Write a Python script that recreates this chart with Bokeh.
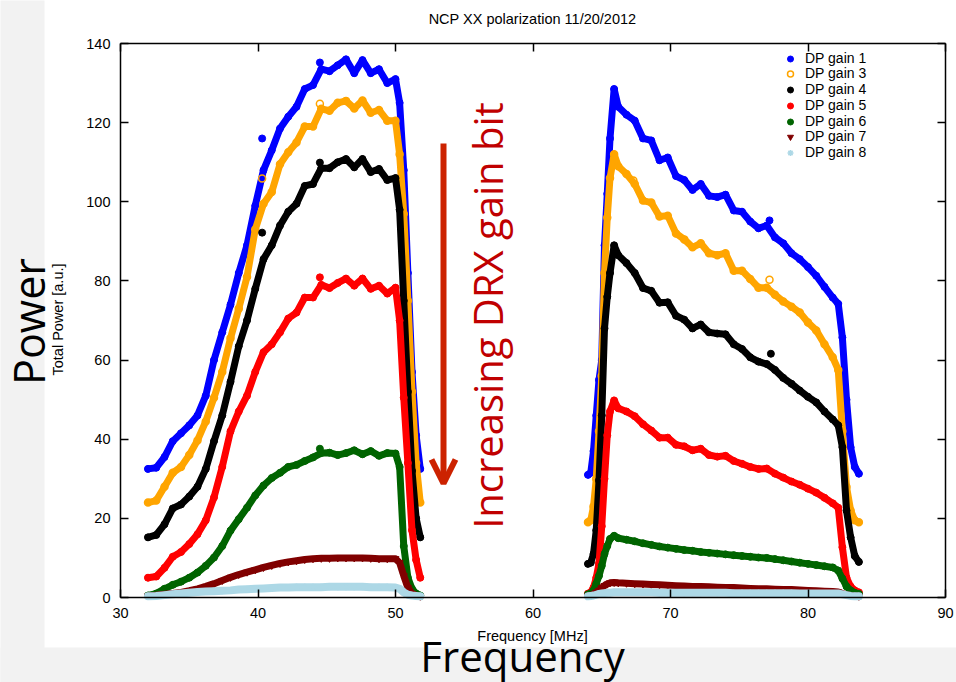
from math import pi
from bokeh.plotting import figure
from bokeh.models import (Range1d, LinearAxis, FixedTicker, Label, Arrow, OpenHead,
                          BoxAnnotation, Legend, LegendItem)
from bokeh.embed import file_html
from bokeh.resources import INLINE

# ---------------- data ----------------
freq_left = [32.0, 32.6, 33.2, 33.8, 34.4, 35.0, 35.6, 36.2, 36.8, 37.4, 38.0, 38.6,
             39.2, 39.8, 40.4, 41.0, 41.6, 42.2, 42.8, 43.4, 44.0, 44.6, 45.2, 45.8,
             46.4, 47.0, 47.6, 48.2, 48.8, 49.4, 50.0, 50.3, 50.6, 50.9, 51.2, 51.5, 51.8]
freq_right = [64.0, 64.2, 64.4, 64.6, 64.8, 65.0, 65.2, 65.4, 65.6, 65.9, 66.2, 66.8,
              67.4, 68.0, 68.6, 69.2, 69.8, 70.4, 71.0, 71.6, 72.2, 72.8, 73.4, 74.0,
              74.6, 75.2, 75.8, 76.4, 77.0, 77.6, 78.2, 78.8, 79.4, 80.0, 80.6, 81.2,
              81.8, 82.2, 82.5, 82.8, 83.1, 83.4, 83.7]

gain1_left = [32.5, 32.8, 35.5, 39.5, 41.5, 43.5, 46.0, 51.0, 60.0, 67.0, 74.0, 82.0,
              89.0, 99.0, 108.0, 113.0, 118.5, 121.5, 124.0, 128.5, 129.5, 133.5, 133.0, 134.5,
              136.0, 132.5, 135.8, 132.5, 133.5, 130.0, 131.0, 125.0, 108.0, 82.0, 57.0, 41.0, 32.5]
gain3_left = [24.0, 24.5, 28.0, 31.5, 33.0, 36.0, 39.7, 44.5, 50.5, 57.0, 65.5, 73.0,
              81.0, 93.0, 99.5, 102.5, 109.5, 112.5, 115.0, 119.0, 119.0, 123.5, 123.0, 125.0,
              125.5, 123.6, 125.6, 122.5, 123.2, 120.5, 120.5, 112.0, 97.0, 75.0, 52.0, 34.0, 24.0]
gain4_left = [15.2, 15.8, 18.5, 22.5, 23.5, 25.5, 28.0, 32.5, 39.5, 46.0, 54.5, 63.5,
              70.0, 78.0, 85.5, 89.0, 94.0, 97.5, 99.5, 104.0, 104.5, 108.5, 108.5, 110.0,
              110.8, 108.7, 110.8, 107.5, 108.3, 105.5, 106.0, 98.0, 75.0, 52.0, 32.0, 20.0, 15.2]
gain5_left = [5.0, 5.3, 7.5, 10.3, 11.5, 13.5, 16.0, 19.5, 25.3, 33.0, 42.0, 47.0,
              51.0, 57.0, 62.0, 64.0, 67.0, 70.5, 72.0, 75.8, 75.8, 79.0, 78.2, 79.5,
              80.6, 78.8, 80.6, 78.0, 78.8, 76.8, 78.3, 70.0, 50.5, 34.0, 17.0, 9.5, 5.0]
gain6_left = [0.5, 1.0, 2.2, 3.2, 4.0, 5.0, 6.3, 8.0, 10.1, 13.0, 16.9, 19.8,
              22.7, 25.8, 28.3, 30.2, 31.5, 33.0, 33.5, 34.5, 35.4, 36.5, 36.6, 36.0,
              36.5, 37.2, 36.2, 37.0, 35.8, 36.5, 36.4, 33.0, 13.0, 5.0, 2.2, 1.0, 0.5]
gain7_left = [0.4, 0.6, 0.8, 1.0, 1.3, 1.7, 2.2, 2.8, 3.5, 4.3, 5.1, 5.8,
              6.4, 7.0, 7.6, 8.1, 8.6, 9.0, 9.3, 9.6, 9.8, 9.9, 9.9, 10.0,
              10.0, 10.0, 10.0, 9.9, 9.8, 9.8, 9.8, 8.8, 5.5, 2.5, 1.0, 0.5, 0.3]
gain8_left = [0.3, 0.4, 0.6, 0.8, 1.0, 1.2, 1.4, 1.5, 1.6, 1.7, 1.8, 2.0,
              2.1, 2.2, 2.3, 2.4, 2.5, 2.5, 2.6, 2.6, 2.6, 2.6, 2.7, 2.7,
              2.7, 2.7, 2.7, 2.6, 2.6, 2.6, 2.5, 2.2, 1.3, 0.7, 0.5, 0.4, 0.3]

gain1_right = [31.0, 31.5, 37.0, 46.0, 55.0, 60.0, 89.0, 102.0, 116.0, 128.5, 124.0, 122.0,
               120.5, 116.0, 115.5, 110.5, 111.2, 106.5, 105.5, 103.0, 104.5, 101.5, 101.2, 101.8,
               97.8, 97.5, 95.0, 93.3, 94.0, 91.0, 89.5, 87.0, 85.5, 83.5, 81.3, 78.5,
               75.8, 74.2, 65.7, 50.0, 38.0, 33.0, 31.3]
gain3_right = [19.0, 19.5, 23.0, 30.0, 42.0, 56.0, 82.0, 96.0, 106.0, 112.0, 109.0, 107.0,
               104.5, 100.3, 99.8, 96.3, 96.5, 92.0, 90.5, 88.5, 89.5, 87.0, 86.5, 87.0,
               82.6, 82.6, 80.5, 78.3, 78.3, 76.5, 74.8, 73.5, 72.0, 69.5, 67.5, 64.0,
               60.7, 57.5, 42.0, 28.0, 22.0, 19.5, 19.0]
gain4_right = [8.5, 8.8, 11.0, 17.0, 29.6, 46.0, 68.0, 76.0, 82.0, 89.0, 86.5, 84.5,
               82.0, 78.2, 77.5, 74.5, 74.6, 71.2, 70.2, 68.0, 69.0, 67.0, 66.7, 66.5,
               64.0, 62.8, 60.7, 59.6, 59.0, 57.5, 55.5, 54.0, 52.3, 50.7, 49.3, 47.0,
               45.0, 43.5, 38.0, 22.0, 15.2, 10.5, 9.0]
gain5_right = [1.0, 1.3, 2.5, 5.0, 8.6, 18.0, 30.0, 41.0, 47.0, 49.8, 47.8, 47.0,
               45.8, 43.8, 42.2, 40.4, 40.4, 38.6, 38.2, 37.2, 37.6, 36.0, 35.6, 35.8,
               34.5, 33.8, 33.0, 32.5, 32.6, 31.3, 30.3, 29.3, 28.5, 27.5, 26.5, 25.2,
               23.8, 22.7, 12.7, 5.0, 2.8, 1.8, 1.3]
gain6_right = [0.8, 1.0, 1.8, 3.5, 5.5, 8.0, 11.0, 13.0, 14.8, 15.6, 15.0, 14.6,
               14.2, 13.7, 13.3, 12.9, 12.6, 12.3, 12.0, 11.8, 11.5, 11.3, 11.1, 10.9,
               10.7, 10.5, 10.3, 10.1, 10.0, 9.7, 9.4, 9.1, 8.8, 8.5, 8.2, 7.9,
               7.6, 6.8, 4.8, 2.8, 1.8, 1.2, 0.9]
gain7_right = [0.4, 0.5, 0.8, 1.3, 1.8, 2.5, 3.0, 3.4, 3.7, 3.8, 3.7, 3.6,
               3.5, 3.4, 3.3, 3.2, 3.1, 3.0, 2.9, 2.8, 2.8, 2.7, 2.6, 2.5,
               2.5, 2.4, 2.3, 2.2, 2.2, 2.1, 2.0, 2.0, 1.9, 1.8, 1.7, 1.6,
               1.5, 1.4, 1.0, 0.7, 0.5, 0.4, 0.3]
gain8_right = [0.3, 0.4, 0.5, 0.7, 0.9, 1.0, 1.1, 1.2, 1.2, 1.3, 1.3, 1.3,
               1.3, 1.3, 1.3, 1.2, 1.2, 1.2, 1.2, 1.2, 1.2, 1.2, 1.2, 1.2,
               1.1, 1.1, 1.1, 1.1, 1.1, 1.1, 1.1, 1.1, 1.0, 1.0, 1.0, 1.0,
               1.0, 1.0, 0.8, 0.6, 0.4, 0.3, 0.3]

# isolated single samples
gain1_out_f = [40.3, 44.5, 77.2]
gain1_out_p = [116.0, 135.2, 95.3]
gain3_out_f = [40.3, 44.5, 67.3, 77.2]
gain3_out_p = [105.9, 124.8, 105.4, 80.3]
gain4_out_f = [40.3, 44.5, 77.3]
gain4_out_p = [92.2, 109.9, 61.6]
gain5_out_f = [44.5]
gain5_out_p = [80.9]
gain6_out_f = [44.5]
gain6_out_p = [37.6]
gain7_out_f = []
gain7_out_p = []
gain8_out_f = []
gain8_out_p = []

series_names = ["DP gain 1", "DP gain 3", "DP gain 4", "DP gain 5",
                "DP gain 6", "DP gain 7", "DP gain 8"]
x_ticks = [30, 40, 50, 60, 70, 80, 90]
y_ticks = [0, 20, 40, 60, 80, 100, 120, 140]
x_min, x_max = 30, 90
y_min, y_max = 0, 140

series = [
    (gain1_left, gain1_right, gain1_out_f, gain1_out_p),
    (gain3_left, gain3_right, gain3_out_f, gain3_out_p),
    (gain4_left, gain4_right, gain4_out_f, gain4_out_p),
    (gain5_left, gain5_right, gain5_out_f, gain5_out_p),
    (gain6_left, gain6_right, gain6_out_f, gain6_out_p),
    (gain7_left, gain7_right, gain7_out_f, gain7_out_p),
    (gain8_left, gain8_right, gain8_out_f, gain8_out_p),
]

# ---------------- styles / layout ----------------
W, H = 956, 682
PL, PR, PT, PB = 120, 945, 43, 597          # plot box in canvas pixels
sx = (PR - PL) / (x_max - x_min)
sy = (PB - PT) / (y_max - y_min)
def dx(px):
    return x_min + (px - PL) / sx
def dy(py):
    return y_min + (PB - py) / sy

colors = ["#0000ff", "#ffa500", "#000000", "#ff0000", "#006400", "#800000", "#add8e6"]
markers = ["circle", "circle", "circle", "circle", "circle", "inverted_triangle", "asterisk"]
filled = [True, False, True, True, True, True, False]
line_widths = [7, 7, 7, 7, 7, 7, 8]
FONT = "Liberation Sans"
RED = "#c00000"
ARROW_RED = "#cc2200"
GRAY = "#f2f2f2"

p = figure(width=W, height=H, x_range=Range1d(dx(0), dx(W)), y_range=Range1d(dy(H), dy(0)),
           output_backend="svg", toolbar_location=None, title=None,
           x_axis_type=None, y_axis_type=None,
           min_border=0, min_border_left=0, min_border_right=0,
           min_border_top=0, min_border_bottom=0)
p.grid.visible = False
p.outline_line_color = None
p.background_fill_color = "white"
p.border_fill_color = "white"

# slide background strips
p.add_layout(BoxAnnotation(left=dx(-20), right=dx(44), bottom=dy(H + 20), top=dy(-20),
                           fill_color=GRAY, fill_alpha=1, line_color=None, level="underlay"))
p.add_layout(BoxAnnotation(left=dx(-20), right=dx(W + 20), bottom=dy(H + 20), top=dy(647),
                           fill_color=GRAY, fill_alpha=1, line_color=None, level="underlay"))

def make_axis(ticks, loc, bounds, labels=True):
    ax = LinearAxis(ticker=FixedTicker(ticks=ticks), fixed_location=loc, bounds=bounds,
                    major_tick_in=8, major_tick_out=0, minor_tick_line_color=None,
                    major_tick_line_color="black", major_tick_line_width=1.5,
                    axis_line_color="black", axis_line_width=1.5,
                    major_label_text_font=FONT, major_label_text_font_size="14.5px",
                    major_label_text_color="black")
    if not labels:
        ax.major_label_overrides = {t: "" for t in ticks}
    return ax

bottom_ax = make_axis(x_ticks, y_min, (x_min, x_max))
bottom_ax.major_label_standoff = 10
left_ax = make_axis(y_ticks, x_min, (y_min, y_max))
left_ax.major_label_standoff = 10
top_ax = make_axis(x_ticks, y_max, (x_min, x_max), labels=False)
right_ax = make_axis(y_ticks, x_max, (y_min, y_max), labels=False)
p.add_layout(bottom_ax, "below")
p.add_layout(left_ax, "left")
p.add_layout(top_ax, "above")
p.add_layout(right_ax, "right")

scatter_renderers = []
for i, (left_vals, right_vals, out_f, out_p) in enumerate(series):
    c = colors[i]
    p.line(freq_left, left_vals, line_color=c, line_width=line_widths[i],
           line_join="round", line_cap="round")
    p.line(freq_right, right_vals, line_color=c, line_width=line_widths[i],
           line_join="round", line_cap="round")
    xs = freq_left + freq_right + out_f
    ys = left_vals + right_vals + out_p
    r = p.scatter(xs, ys, marker=markers[i], size=7,
                  fill_color=c if filled[i] else None, line_color=c,
                  line_width=1.5 if not filled[i] else 1)
    scatter_renderers.append(r)

# legend: one row per series
ROW0, ROW_STEP = 58.0, 15.8
for i, r in enumerate(scatter_renderers):
    row_center = ROW0 + ROW_STEP * i
    leg = Legend(items=[LegendItem(label=series_names[i], renderers=[r])],
                 location=(780, int(round(H - row_center - 7.5))),
                 label_text_font=FONT, label_text_font_size="14px", label_text_color="black",
                 label_text_line_height=1.0,
                 glyph_height=15, glyph_width=20, label_height=15, spacing=0, padding=0,
                 margin=0, border_line_color=None, background_fill_alpha=0, label_standoff=5)
    p.add_layout(leg)

# texts (anchor of "alphabetic" text sits ~0.35 em below the cap top)
p.add_layout(Label(x=dx(532), y=dy(18), text="NCP XX polarization 11/20/2012", text_font=FONT,
                   text_font_size="14.5px", text_align="center", text_baseline="middle",
                   text_color="black"))
p.add_layout(Label(x=dx(532), y=dy(635), text="Frequency [MHz]", text_font=FONT,
                   text_font_size="14.5px", text_align="center", text_baseline="middle",
                   text_color="black"))
p.add_layout(Label(x=dx(57.5), y=dy(319), text="Total Power [a.u.]", text_font=FONT,
                   text_font_size="14.5px", text_align="center", text_baseline="middle",
                   angle=pi / 2, text_color="black"))
p.add_layout(Label(x=dx(28), y=dy(321), text="Power", text_font="Open Sans",
                   text_font_size="43px", text_align="center", text_baseline="alphabetic",
                   angle=pi / 2, text_color="black"))
p.add_layout(Label(x=dx(522), y=dy(654.5), text="Frequency", text_font="Open Sans",
                   text_font_size="42px", text_align="center", text_baseline="alphabetic",
                   text_color="black"))
p.add_layout(Label(x=dx(487), y=dy(315), text="Increasing DRX gain bit", text_font="Open Sans",
                   text_font_size="40px", text_align="center", text_baseline="alphabetic",
                   angle=pi / 2, text_color=RED))
p.add_layout(Arrow(end=OpenHead(line_color=ARROW_RED, line_width=6, size=24),
                   x_start=dx(443), y_start=dy(143), x_end=dx(443), y_end=dy(483),
                   line_color=ARROW_RED, line_width=6))

open("out.html", "w").write(file_html(p, INLINE))
